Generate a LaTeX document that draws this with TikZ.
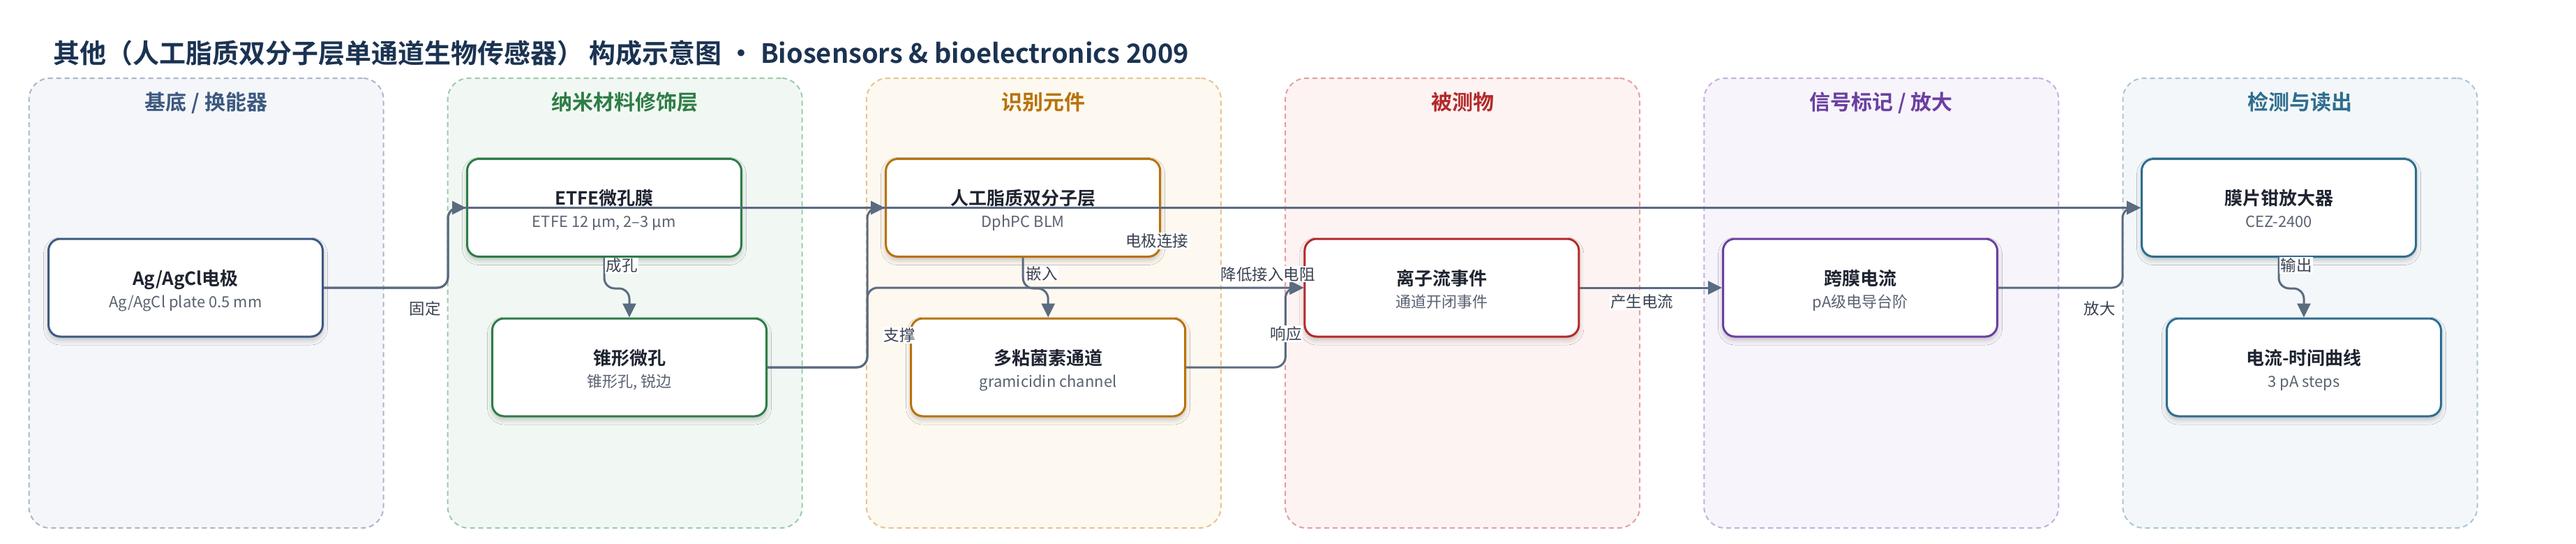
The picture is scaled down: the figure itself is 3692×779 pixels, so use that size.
\documentclass[tikz,border=0pt]{standalone}
\usepackage{fontspec}
\setmainfont{Noto Sans CJK SC}[BoldFont={Noto Sans CJK SC Bold}]
\usetikzlibrary{calc,arrows.meta,shadows.blur}
\definecolor{titlec}{HTML}{1B3352}
\definecolor{edgec}{HTML}{5B6B80}
\definecolor{lblc}{HTML}{3A4150}
\definecolor{mainc}{HTML}{1E2430}
\definecolor{subc}{HTML}{5A6272}
\definecolor{cA}{HTML}{3D5A80}\definecolor{fA}{HTML}{F5F6FA}\definecolor{dA}{HTML}{A9B6CA}
\definecolor{cB}{HTML}{2E7D46}\definecolor{fB}{HTML}{F1F8F3}\definecolor{dB}{HTML}{9CCBA9}
\definecolor{cC}{HTML}{B8720A}\definecolor{fC}{HTML}{FDF8F0}\definecolor{dC}{HTML}{E6C58C}
\definecolor{cD}{HTML}{B22A2A}\definecolor{fD}{HTML}{FDF3F2}\definecolor{dD}{HTML}{E3A0A0}
\definecolor{cE}{HTML}{6B3FA0}\definecolor{fE}{HTML}{F7F4FB}\definecolor{dE}{HTML}{C6AEDF}
\definecolor{cF}{HTML}{2E6E8E}\definecolor{fF}{HTML}{F3F7F9}\definecolor{dF}{HTML}{A9C6D6}
\tikzset{
  lanebox/.style 2 args={draw=#1, fill=#2, dash pattern=on 7pt off 5pt, line width=2pt,
    rounded corners=30pt, minimum width=508pt, minimum height=644pt, inner sep=0pt},
  lanetitle/.style={text=#1, font=\fontsize{30pt}{34pt}\selectfont\bfseries, anchor=base, inner sep=0pt},
  box/.style={draw=#1, fill=white, line width=3pt, rounded corners=17pt,
    minimum width=393pt, minimum height=140pt, inner sep=0pt,
    blur shadow={shadow xshift=0pt, shadow yshift=-5pt, shadow blur radius=7pt, shadow opacity=22}},
  mtext/.style={text=mainc, font=\fontsize{26pt}{30pt}\selectfont\bfseries, anchor=base, inner sep=0pt},
  stext/.style={text=subc, font=\fontsize{22pt}{26pt}\selectfont, anchor=base, inner sep=0pt},
  conn/.style={draw=edgec, line width=3pt, rounded corners=15pt, -{Triangle[length=20pt,width=19pt]}},
  elabel/.style={text=lblc, fill=white, font=\fontsize{22.5pt}{26pt}\selectfont, inner sep=1.5pt},
}
\begin{document}
\begin{tikzpicture}[x=1pt,y=-1pt]
\path[use as bounding box, fill=white] (0,0) rectangle (3692,779);
% title
\node[text=titlec, font=\fontsize{38pt}{44pt}\selectfont\bfseries, anchor=base west, inner sep=0pt] (title) at (76,90)
  {其他（人工脂质双分子层单通道生物传感器） 构成示意图 • Biosensors \& bioelectronics 2009};
% lanes
\node[lanebox={dA}{fA}] (lane1) at (295.5,434) {};
\node[lanebox={dB}{fB}] (lane2) at (895.7,434) {};
\node[lanebox={dC}{fC}] (lane3) at (1495.9,434) {};
\node[lanebox={dD}{fD}] (lane4) at (2096.1,434) {};
\node[lanebox={dE}{fE}] (lane5) at (2696.3,434) {};
\node[lanebox={dF}{fF}] (lane6) at (3296.5,434) {};
\node[lanetitle=cA] (lane1-t) at (295.5,157) {基底 / 换能器};
\node[lanetitle=cB] (lane2-t) at (895.7,157) {纳米材料修饰层};
\node[lanetitle=cC] (lane3-t) at (1495.9,157) {识别元件};
\node[lanetitle=cD] (lane4-t) at (2096.1,157) {被测物};
\node[lanetitle=cE] (lane5-t) at (2696.3,157) {信号标记 / 放大};
\node[lanetitle=cF] (lane6-t) at (3296.5,157) {检测与读出};
% boxes
\node[box=cA] (ag) at (266,412) {};
\node[box=cB] (etfe) at (866,297.5) {};
\node[box=cB] (cone) at (902,526) {};
\node[box=cC] (blm) at (1466.2,297.5) {};
\node[box=cC] (gram) at (1502.2,526) {};
\node[box=cD] (ion) at (2066.4,412) {};
\node[box=cE] (tm) at (2666,412) {};
\node[box=cF] (amp) at (3266,297.5) {};
\node[box=cF] (curve) at (3302,526) {};
% bus coordinates
\coordinate (b2) at (642,0);
\coordinate (b3) at (1243,0);
\coordinate (b4) at (1842.3,0);
\coordinate (b6) at (3042,0);
% edges
\draw[conn] (ag.east) -| (b2 |- amp.west) -- (amp.west);
\draw[conn] (ag.east) -| (b2 |- etfe.west) -- (etfe.west);
\draw[conn] (etfe.south) -- ++(0,44) -| (cone.north);
\draw[conn] (cone.east) -| (b3 |- blm.west) -- (blm.west);
\draw[conn] (cone.east) -| (b3 |- ion.west) -- (ion.west);
\draw[conn] (blm.south) -- ++(0,44) -| (gram.north);
\draw[conn] (gram.east) -| (b4 |- ion.west) -- (ion.west);
\draw[conn] (ion.east) -- (tm.west);
\draw[conn] (tm.east) -| (b6 |- amp.west) -- (amp.west);
\draw[conn] (amp.south) -- ++(0,44) -| (curve.north);
% box texts
\node[mtext] (ag-t) at ($(ag)+(0,-4)$) {Ag/AgCl电极};
\node[stext] (ag-s) at ($(ag)+(0,28)$) {Ag/AgCl plate 0.5 mm};
\node[mtext] (etfe-t) at ($(etfe)+(0,-4)$) {ETFE微孔膜};
\node[stext] (etfe-s) at ($(etfe)+(0,28)$) {ETFE 12 µm, 2–3 µm};
\node[mtext] (cone-t) at ($(cone)+(0,-4)$) {锥形微孔};
\node[stext] (cone-s) at ($(cone)+(0,28)$) {锥形孔, 锐边};
\node[mtext] (blm-t) at ($(blm)+(0,-4)$) {人工脂质双分子层};
\node[stext] (blm-s) at ($(blm)+(0,28)$) {DphPC BLM};
\node[mtext] (gram-t) at ($(gram)+(0,-4)$) {多粘菌素通道};
\node[stext] (gram-s) at ($(gram)+(0,28)$) {gramicidin channel};
\node[mtext] (ion-t) at ($(ion)+(0,-4)$) {离子流事件};
\node[stext] (ion-s) at ($(ion)+(0,28)$) {通道开闭事件};
\node[mtext] (tm-t) at ($(tm)+(0,-4)$) {跨膜电流};
\node[stext] (tm-s) at ($(tm)+(0,28)$) {pA级电导台阶};
\node[mtext] (amp-t) at ($(amp)+(0,-4)$) {膜片钳放大器};
\node[stext] (amp-s) at ($(amp)+(0,28)$) {CEZ-2400};
\node[mtext] (curve-t) at ($(curve)+(0,-4)$) {电流-时间曲线};
\node[stext] (curve-s) at ($(curve)+(0,28)$) {3 pA steps};
% edge labels
\node[elabel] (l1) at (609,442) {固定};
\node[elabel] (l2) at (1658,345) {电极连接};
\node[elabel] (l3) at (891,380.5) {成孔};
\node[elabel] (l4) at (1289,480) {支撑};
\node[elabel] (l5) at (1817,392.5) {降低接入电阻};
\node[elabel] (l6) at (1493,391.5) {嵌入};
\node[elabel] (l7) at (1843,478) {响应};
\node[elabel] (l8) at (2353,432.5) {产生电流};
\node[elabel] (l9) at (3009,442) {放大};
\node[elabel] (l10) at (3291,380) {输出};
\end{tikzpicture}
\end{document}
